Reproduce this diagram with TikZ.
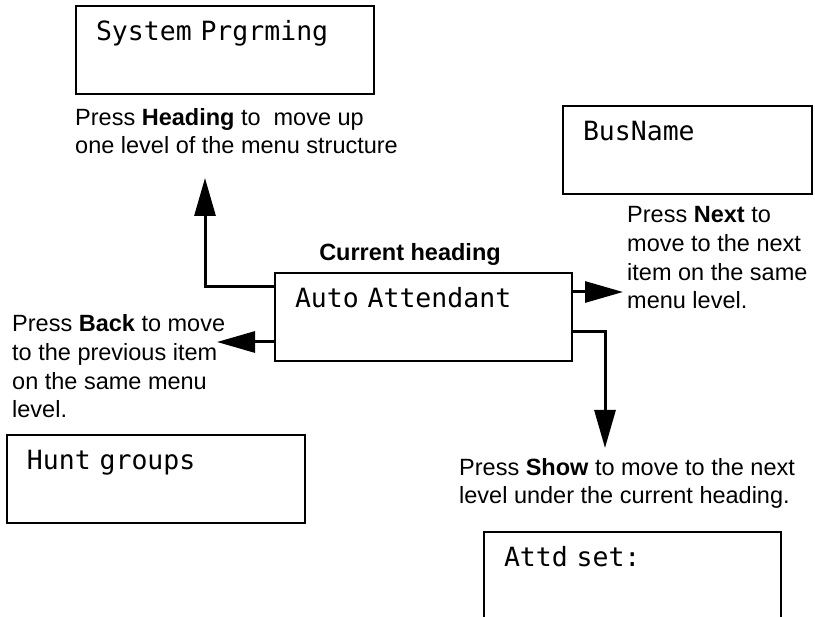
\documentclass[tikz,border=0pt]{standalone}
\usepackage{fontspec}
\setmainfont{Liberation Sans}
\newfontfamily\lcdfont{DejaVu Sans Mono}
\usetikzlibrary{arrows.meta,positioning,calc}

\begin{document}
\begin{tikzpicture}[x=1pt, y=-1pt,
    lcd/.style={draw, line width=2pt, anchor=north west, inner xsep=20pt, inner ysep=0pt,
        text width=#1, align=left, text height=35pt, text depth=53pt,
        font=\lcdfont\fontsize{26.5}{30}\selectfont},
    lcd/.default=258pt,
    note/.style={anchor=base west, inner sep=0pt, align=left,
        font=\fontsize{23.5}{28.7}\selectfont},
    arr/.style={line width=3pt, -{Triangle[length=38pt,width=21pt]}}]
    \useasboundingbox (0,0) rectangle (815,617);
    \clip (0,0) rectangle (815,617);

    % display boxes
    \node[lcd] (sysprog) at (75,5) {System Prgrming};
    \node[lcd=209pt] (busname) at (562,105) {BusName};
    \node[lcd=257pt] (current) at (274,272) {Auto Attendant};
    \node[lcd] (hunt) at (6,434) {Hunt groups};
    \node[lcd=257pt] (attd) at (483,531) {Attd set:};

    \node[anchor=base, inner sep=0pt, font=\fontsize{23.5}{28.7}\selectfont\bfseries]
        (curlabel) at (410,261) {Current heading};

    % key descriptions (base = last line)
    \node[note] (headingtxt) at (75,154) {Press \textbf{Heading} to\ \ move up\\one level of the menu structure};
    \node[note] (nexttxt) at (627,309) {Press \textbf{Next} to\\move to the next\\item on the same\\menu level.};
    \node[note] (backtxt) at (12,418) {Press \textbf{Back} to move\\to the previous item\\on the same menu\\level.};
    \node[note] (showtxt) at (459,504) {Press \textbf{Show} to move to the next\\level under the current heading.};

    % arrows
    \coordinate (uptip) at (205,178);
    \coordinate (backtip) at (217,342);
    \coordinate (nexttip) at (623,292);
    \coordinate (showtip) at (605,448);
    \draw[arr] ([yshift=-15pt]current.north west) -| (uptip);
    \draw[arr] (current.west |- backtip) -- (backtip);
    \draw[arr] (current.east |- nexttip) -- (nexttip);
    \draw[arr] ([yshift=-60pt]current.north east) -| (showtip);
\end{tikzpicture}
\end{document}
